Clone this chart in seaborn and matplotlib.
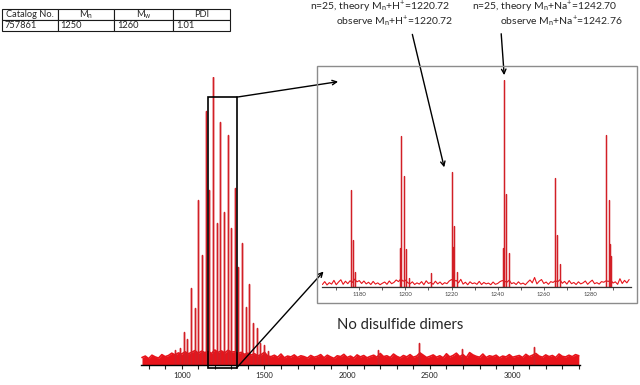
import numpy as np
import pandas as pd
import matplotlib
matplotlib.use("Agg")
import matplotlib.pyplot as plt
from matplotlib.patches import Rectangle, ConnectionPatch
from matplotlib.ticker import MultipleLocator
import seaborn as sns


# =========================
# Data
# =========================

# full spectrum: oligomer peaks (m/z, relative intensity %)
MAIN_MZ = [960, 991, 1013, 1035, 1057, 1079, 1101, 1123, 1145, 1167, 1189,
           1211, 1233, 1255, 1277, 1299, 1321, 1343, 1365, 1387, 1409, 1431,
           1453, 1475, 1497, 1519, 2186, 2436, 2692, 3130]
MAIN_INT = [5.2, 6.0, 11.6, 8.9, 26.6, 19.7, 57.3, 38.2, 88.3, 60.8, 100.0,
            49.2, 84.5, 53.0, 79.9, 47.4, 61.3, 34.1, 42.5, 20.0, 28.1, 14.5,
            12.7, 7.5, 6.9, 5.0, 5.1, 7.7, 5.4, 6.1]

# full spectrum baseline noise, every 20 m/z from 760
MAIN_NOISE_START = 760
MAIN_NOISE_STEP = 20
MAIN_NOISE = [2.6, 3.1, 2.2, 3.4, 2.8, 2.4, 3.6, 2.9, 3.3, 4.1,
              3.5, 4.2, 3.8, 4.6, 3.9, 4.4, 5.0, 4.1, 4.8, 4.3,
              4.7, 4.0, 5.2, 4.4, 4.9, 4.2, 5.1, 4.5, 4.6, 4.0,
              4.4, 3.7, 4.1, 3.5, 3.9, 3.2, 3.6, 4.4, 3.1, 2.9,
              3.4, 2.7, 3.8, 2.5, 3.1, 2.8, 3.5, 2.6, 3.2, 2.9,
              2.4, 3.3, 2.7, 3.0, 3.6, 2.5, 3.4, 2.8, 2.3, 3.2,
              2.9, 3.7, 2.6, 3.1, 2.4, 3.5, 2.8, 3.3, 2.5, 3.0,
              3.4, 2.7, 4.0, 2.9, 3.2, 2.6, 3.8, 3.0, 2.5, 3.3,
              2.8, 3.6, 2.7, 3.1, 4.2, 3.4, 2.6, 3.0, 3.5, 2.7,
              3.2, 2.5, 3.9, 2.8, 3.3, 4.1, 2.9, 3.6, 2.6, 4.3,
              3.5, 3.0, 2.7, 3.8, 2.6, 3.2, 2.9, 3.4, 2.5, 3.1,
              2.8, 3.6, 2.7, 3.0, 3.3, 2.6, 3.7, 2.9, 3.4, 4.0,
              3.1, 2.7, 3.5, 2.9, 3.3, 2.6, 3.8, 3.0, 2.8, 3.4,
              2.9, 3.6, 3.2]

# zoomed region peaks
INSET_MZ = [1176.3, 1177.4, 1178.3, 1197.7, 1198.2, 1199.5, 1200.4, 1201.4,
            1211.0, 1220.1, 1220.6, 1221.1, 1222.2, 1242.2, 1242.9, 1243.8,
            1244.8, 1265.0, 1265.9, 1267.0, 1287.1, 1288.2, 1288.6, 1289.3]
INSET_INT = [46.9, 22.7, 7.4, 18.8, 72.9, 53.6, 18.4, 4.3,
             6.8, 55.6, 19.5, 29.5, 7.4, 18.7, 100.0, 44.9,
             16.4, 52.7, 25.1, 11.1, 73.4, 42.0, 21.0, 15.0]

# zoomed region noise, every 1 m/z from 1164
INSET_NOISE_START = 1164
INSET_NOISE = [1.2, 2.6, 1.0, 2.1, 1.4, 3.2, 1.1, 2.4, 3.5, 1.3,
               2.8, 1.6, 3.0, 2.2, 3.8, 2.5, 3.1, 1.7, 2.9, 1.5,
               2.3, 1.2, 2.7, 1.4, 2.0, 1.1, 1.8, 2.4, 1.3, 2.9,
               1.6, 2.2, 3.4, 2.6, 3.9, 2.8, 3.3, 2.1, 1.5, 2.5,
               1.2, 2.0, 1.4, 2.6, 1.1, 3.0, 1.7, 2.2, 1.3, 2.8,
               1.5, 2.4, 1.2, 2.1, 1.6, 2.9, 3.6, 2.7, 3.2, 2.0,
               3.7, 1.4, 2.3, 1.1, 2.5, 1.6, 2.0, 1.3, 2.7, 1.2,
               2.2, 1.5, 1.9, 1.1, 2.4, 1.3, 1.7, 2.6, 3.1, 2.8,
               2.3, 3.3, 1.6, 2.1, 1.2, 2.5, 1.4, 1.9, 1.1, 2.3,
               3.4, 2.0, 4.6, 1.5, 2.8, 3.6, 1.7, 2.4, 1.3, 2.6,
               2.2, 3.0, 2.5, 3.5, 1.8, 2.7, 1.4, 3.1, 1.6, 2.2,
               1.2, 2.5, 1.5, 2.0, 2.9, 1.3, 2.4, 3.3, 1.6, 2.1,
               1.4, 2.6, 2.3, 3.0, 2.7, 3.4, 1.9, 2.5, 1.3, 4.0,
               1.7, 3.2, 2.0, 3.6]

TABLE_HEADER = ["Catalog No.", r"M$_\mathrm{n}$", r"M$_\mathrm{w}$", "PDI"]
TABLE_ROW = ["757861", "1250", "1260", "1.01"]

MAIN_TICKS = [1000, 1500, 2000, 2500, 3000]
INSET_TICKS = [1180, 1200, 1220, 1240, 1260, 1280]

ZOOM_BOX = (1161, 1332)   # m/z span marked on the full spectrum


# =========================
# Style
# =========================

sns.set_theme(style="ticks")
plt.rcParams["font.family"] = ["Lato", "DejaVu Sans"]
plt.rcParams["mathtext.fontset"] = "custom"
plt.rcParams["mathtext.rm"] = "Lato"
plt.rcParams["mathtext.it"] = "Lato:italic"
plt.rcParams["mathtext.bf"] = "Lato:bold"

PEAK_RED = "#d21f26"
NOISE_RED = "#e8141b"


def stick_frame(mz, inten):
    xs, ys = [], []
    for m, h in zip(mz, inten):
        xs += [m, m, m]
        ys += [0, h, 0]
    return pd.DataFrame({"mz": xs, "intensity": ys})


def noise_frame(start, step, values):
    mz = start + step * np.arange(len(values))
    return pd.DataFrame({"mz": mz, "intensity": values})


fig = plt.figure(figsize=(6.4, 3.85), dpi=100)

# =========================
# Full spectrum
# =========================

ax = fig.add_axes([141 / 640, 20 / 385, 439 / 640, 288 / 385])
ax.patch.set_alpha(0)

noise = noise_frame(MAIN_NOISE_START, MAIN_NOISE_STEP, MAIN_NOISE)
ax.fill_between(noise["mz"], 0, noise["intensity"], color=NOISE_RED, lw=0)
sns.lineplot(data=noise, x="mz", y="intensity", ax=ax, color=NOISE_RED,
             lw=1.2, sort=False, estimator=None)
sns.lineplot(data=stick_frame(MAIN_MZ, MAIN_INT), x="mz", y="intensity",
             ax=ax, color=PEAK_RED, lw=1.0, sort=False, estimator=None)

ax.set_xlim(754, 3407)
ax.set_ylim(0, 100)
ax.set(xlabel="", ylabel="")
ax.set_yticks([])
ax.set_xticks(MAIN_TICKS)
ax.xaxis.set_minor_locator(MultipleLocator(100))
ax.tick_params(axis="x", which="both", direction="out", length=3, width=0.8,
               labelsize=5.5, pad=2, colors="#222222")
for side in ["left", "top", "right"]:
    ax.spines[side].set_visible(False)
ax.spines["bottom"].set_linewidth(1.0)
ax.spines["bottom"].set_color("black")

ax.add_patch(Rectangle((ZOOM_BOX[0], -1), ZOOM_BOX[1] - ZOOM_BOX[0], 94,
                       fill=False, ec="black", lw=1.2, clip_on=False, zorder=5))

# =========================
# Zoomed inset
# =========================

fig.patches.append(Rectangle((317 / 640, 1 - 303 / 385), 320 / 640, 237 / 385,
                             transform=fig.transFigure, fill=False,
                             ec="#8c8c8c", lw=1.0))

ax_in = fig.add_axes([321.7 / 640, 98 / 385, 309.3 / 640, 207 / 385])
ax_in.patch.set_alpha(0)

noise_in = noise_frame(INSET_NOISE_START, 1, INSET_NOISE)
sns.lineplot(data=noise_in, x="mz", y="intensity", ax=ax_in, color=NOISE_RED,
             lw=0.8, sort=False, estimator=None)
sns.lineplot(data=stick_frame(INSET_MZ, INSET_INT), x="mz", y="intensity",
             ax=ax_in, color=PEAK_RED, lw=0.9, sort=False, estimator=None)

ax_in.set_xlim(1163.7, 1297.8)
ax_in.set_ylim(0, 100)
ax_in.set(xlabel="", ylabel="")
ax_in.set_yticks([])
ax_in.set_xticks(INSET_TICKS)
ax_in.xaxis.set_minor_locator(MultipleLocator(10))
ax_in.tick_params(axis="x", which="both", direction="out", length=2, width=0.6,
                  labelsize=4.3, pad=1.5, colors="#444444")
for side in ["left", "top", "right"]:
    ax_in.spines[side].set_visible(False)
ax_in.spines["bottom"].set_color("#333333")
ax_in.spines["bottom"].set_linewidth(0.9)

# zoom connectors
for p_main, p_in in [((ZOOM_BOX[1], 93), (1170.8, 99.2)),
                     ((ZOOM_BOX[1], -1), (1164.5, 7.5))]:
    con = ConnectionPatch(xyA=p_main, coordsA=ax.transData,
                          xyB=p_in, coordsB=ax_in.transData,
                          arrowstyle="->", color="black", lw=1.0,
                          mutation_scale=8)
    fig.add_artist(con)

# =========================
# Annotations
# =========================

fig.text(380 / 640, 1 - 7 / 385,
         r"n=25, theory M$_\mathrm{n}$+H$^\mathrm{+}$=1220.72",
         ha="center", va="center", fontsize=7.5)
fig.text(395 / 640, 1 - 22 / 385,
         r"observe M$_\mathrm{n}$+H$^\mathrm{+}$=1220.72",
         ha="center", va="center", fontsize=7.5)
fig.text(545 / 640, 1 - 7 / 385,
         r"n=25, theory M$_\mathrm{n}$+Na$^\mathrm{+}$=1242.70",
         ha="center", va="center", fontsize=7.5)
fig.text(561 / 640, 1 - 22 / 385,
         r"observe M$_\mathrm{n}$+Na$^\mathrm{+}$=1242.76",
         ha="center", va="center", fontsize=7.5)

ax_in.annotate("", xy=(1217.1, 56.5), xytext=(411.7 / 640, 1 - 31.7 / 385),
               textcoords="figure fraction", annotation_clip=False,
               arrowprops=dict(arrowstyle="->", color="black", lw=1.0,
                               mutation_scale=8))
ax_in.annotate("", xy=(1242.9, 101), xytext=(501 / 640, 1 - 31 / 385),
               textcoords="figure fraction", annotation_clip=False,
               arrowprops=dict(arrowstyle="->", color="black", lw=1.0,
                               mutation_scale=8))

fig.text(400 / 640, 1 - 325 / 385, "No disulfide dimers",
         ha="center", va="center", fontsize=10.7)

# =========================
# Product table
# =========================

ax_tab = fig.add_axes([2 / 640, 1 - 31 / 385, 228 / 640, 22 / 385])
ax_tab.axis("off")
tab = ax_tab.table(cellText=[TABLE_ROW], colLabels=TABLE_HEADER,
                   cellLoc="left", colWidths=[55.7, 56.6, 59, 56.7],
                   bbox=[0, 0, 1, 1])
tab.auto_set_font_size(False)
tab.set_fontsize(6.7)
for cell in tab.get_celld().values():
    cell.set_linewidth(0.8)
    cell.PAD = 0.05

fig.savefig("out.png", dpi=100)
